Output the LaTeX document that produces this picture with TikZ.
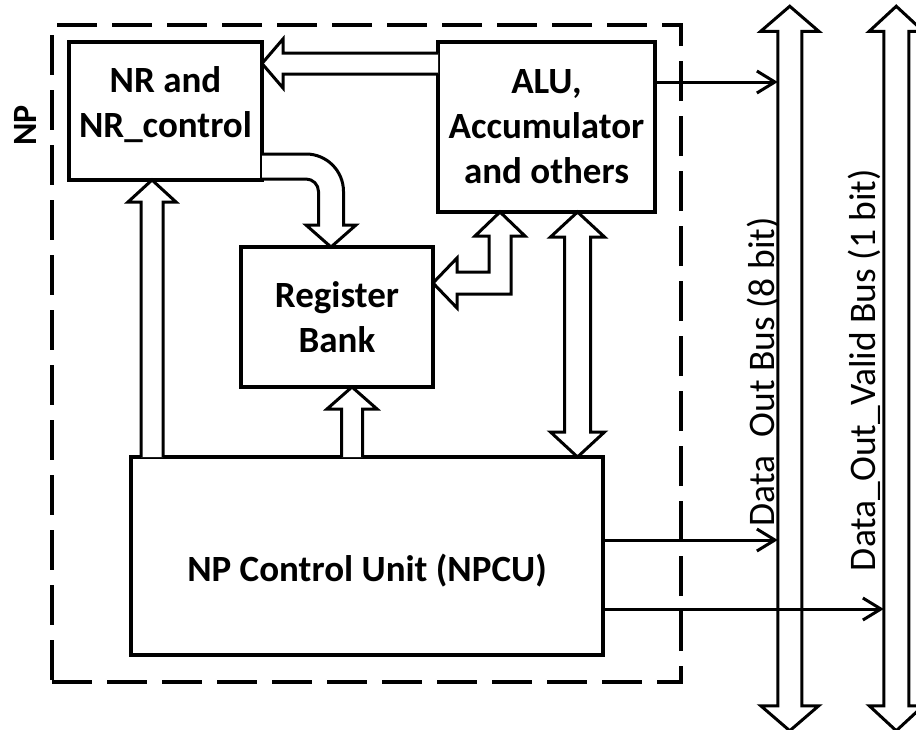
\documentclass[tikz,border=0pt]{standalone}
\usepackage{fontspec}
\setmainfont{Carlito}
\usetikzlibrary{positioning, arrows.meta, fit, calc}

\begin{document}
\begin{tikzpicture}[
    x=1pt, y=1pt,
    block/.style={draw, line width=3.2pt, outer sep=0pt, inner sep=0pt, align=center,
                  font=\bfseries\fontsize{37}{45}\selectfont},
    npframe/.style={draw, dash pattern=on 40pt off 15pt, line width=3.5pt, inner sep=0pt},
    hollow/.style={draw, line width=3pt, fill=white, line join=miter},
    sig/.style={-{Straight Barb[length=18pt, width=22pt]}, line width=3pt},
    buslabel/.style={font=\fontsize{37.5}{44}\selectfont, rotate=90, anchor=south, inner sep=0pt},
    nplabel/.style={font=\bfseries\fontsize{34}{42}\selectfont, rotate=90, anchor=south, inner sep=0pt},
]
\useasboundingbox (0,0) rectangle (916,-729);

% ============================================================
% Blocks inside the NP
% ============================================================
\node[block, minimum width=193pt, minimum height=138pt, anchor=north west] (nr) at (69,-42)
    {\raisebox{6.5pt}[\height][\depth]{NR and}\\\raisebox{6.5pt}[\height][\depth]{NR\_control}};
\node[block, minimum width=217pt, minimum height=170pt, right=176pt of nr.north east, anchor=north west] (alu) {ALU,\\Accumulator\\and others};
\node[block, minimum width=192pt, minimum height=140pt, below=67pt of nr.south west, xshift=172pt, anchor=north west] (reg) {Register\\Bank};
\node[block, minimum width=472pt, minimum height=198pt, below=70pt of reg.south west, xshift=-110pt, anchor=north west,
      text height=50pt, text depth=0pt] (npcu) {NP Control Unit (NPCU)};

% dashed NP frame
\coordinate (np-nw) at ($(nr.north west)+(-17pt,17pt)$);
\coordinate (np-se) at ($(alu.east |- npcu.south)+(26pt,-27pt)$);
\node[npframe, fit=(np-nw)(np-se)] (np) {};
\node[nplabel] (np-text) at ($(np.north west)+(-14pt,-102pt)$) {NP};

% ============================================================
% Hollow arrows between the blocks
% ============================================================
% ALU -> NR
\coordinate (a-tip) at ($(nr.north east)+(0,-21.5pt)$);
\draw[hollow] let \p1=(a-tip), \p2=(alu.west) in
    (\x2,\y1+10.5pt) -- (\x1+21pt,\y1+10.5pt) -- (\x1+21pt,\y1+24.5pt) -- (\p1)
    -- (\x1+21pt,\y1-24.5pt) -- (\x1+21pt,\y1-10.5pt) -- (\x2,\y1-10.5pt);

% NR -> Register (bent)
\coordinate (b-start) at ($(nr.south east)+(0,13.5pt)$);
\coordinate (b-tip) at ($(reg.north)+(-6pt,0)$);
\draw[hollow] let \p1=(b-start), \p2=(b-tip) in
    (\x1,\y1+12.5pt) -- (\x2-25pt,\y1+12.5pt) arc[start angle=90, end angle=0, radius=37.5pt]
    -- (\x2+12.5pt,\y2+22pt) -- (\x2+25pt,\y2+22pt) -- (\p2) -- (\x2-25pt,\y2+22pt) -- (\x2-12.5pt,\y2+22pt)
    -- (\x2-12.5pt,\y1-25pt) arc[start angle=0, end angle=90, radius=12.5pt] -- (\x1,\y1-12.5pt);

% NPCU -> NR
\coordinate (c-tip) at ($(nr.south)+(-13.5pt,0)$);
\draw[hollow] let \p1=(c-tip), \p2=(npcu.north) in
    (\x1-11pt,\y2) -- (\x1-11pt,\y1-22pt) -- (\x1-24pt,\y1-22pt) -- (\p1)
    -- (\x1+24pt,\y1-22pt) -- (\x1+11pt,\y1-22pt) -- (\x1+11pt,\y2);

% NPCU -> Register
\coordinate (d-tip) at ($(reg.south)+(15pt,0)$);
\draw[hollow] let \p1=(d-tip), \p2=(npcu.north) in
    (\x1-10.5pt,\y2) -- (\x1-10.5pt,\y1-22pt) -- (\x1-25pt,\y1-22pt) -- (\p1)
    -- (\x1+25pt,\y1-22pt) -- (\x1+10.5pt,\y1-22pt) -- (\x1+10.5pt,\y2);

% ALU <-> NPCU
\coordinate (e-top) at ($(alu.south)+(31pt,0)$);
\draw[hollow] let \p1=(e-top), \p2=(e-top |- npcu.north) in
    (\p1) -- (\x1+27pt,\y1-25pt) -- (\x1+13pt,\y1-25pt) -- (\x1+13pt,\y2+25pt) -- (\x1+27pt,\y2+25pt) -- (\p2)
    -- (\x1-27pt,\y2+25pt) -- (\x1-13pt,\y2+25pt) -- (\x1-13pt,\y1-25pt) -- (\x1-27pt,\y1-25pt) -- cycle;

% ALU <-> Register (L-shaped)
\coordinate (f-up) at ($(alu.south)+(-46.5pt,0)$);
\coordinate (f-left) at ($(reg.east)+(0,34pt)$);
\draw[hollow] let \p1=(f-up), \p2=(f-left) in
    (\p1) -- (\x1+25pt,\y1-24pt) -- (\x1+11pt,\y1-24pt) -- (\x1+11pt,\y2-11pt) -- (\x2+24pt,\y2-11pt)
    -- (\x2+24pt,\y2-25pt) -- (\p2) -- (\x2+24pt,\y2+25pt) -- (\x2+24pt,\y2+11pt) -- (\x1-11pt,\y2+11pt)
    -- (\x1-11pt,\y1-24pt) -- (\x1-25pt,\y1-24pt) -- cycle;

% ============================================================
% Output buses
% ============================================================
\coordinate (dbus-top) at ($(np.north east)+(107pt,17pt)$);
\coordinate (dbus-bot) at ($(np.south east)+(107pt,-47pt)$);
\coordinate (vbus-top) at ($(np.north east)+(213.5pt,17pt)$);
\coordinate (vbus-bot) at ($(np.south east)+(213.5pt,-47pt)$);

\draw[hollow] let \p1=(dbus-top), \p2=(dbus-bot) in
    (\p1) -- (\x1+29pt,\y1-25pt) -- (\x1+12pt,\y1-25pt) -- (\x1+12pt,\y2+25pt) -- (\x1+29pt,\y2+25pt) -- (\p2)
    -- (\x1-29pt,\y2+25pt) -- (\x1-12pt,\y2+25pt) -- (\x1-12pt,\y1-25pt) -- (\x1-29pt,\y1-25pt) -- cycle;
\draw[hollow] let \p1=(vbus-top), \p2=(vbus-bot) in
    (\p1) -- (\x1+27pt,\y1-25pt) -- (\x1+12.5pt,\y1-25pt) -- (\x1+12.5pt,\y2+25pt) -- (\x1+27pt,\y2+25pt) -- (\p2)
    -- (\x1-27pt,\y2+25pt) -- (\x1-12.5pt,\y2+25pt) -- (\x1-12.5pt,\y1-25pt) -- (\x1-27pt,\y1-25pt) -- cycle;

\coordinate (dbus-left) at ($(dbus-top)+(-12pt,0)$);
\coordinate (vbus-left) at ($(vbus-top)+(-12.5pt,0)$);

\node[buslabel] (dbus-text) at ($(dbus-top)!0.5!(dbus-bot)+(-10pt,-3.5pt)$) {Data\_Out Bus (8 bit)};
\node[buslabel] (vbus-text) at ($(vbus-top)!0.5!(vbus-bot)+(-15.5pt,-1.5pt)$) {Data\_Out\_Valid Bus (1 bit)};

% signals to the buses
\coordinate (g-start) at ($(alu.east)+(0,45pt)$);
\coordinate (h-start) at ($(npcu.east)+(0,16pt)$);
\coordinate (i-start) at ($(npcu.east)+(0,-53pt)$);
\draw[sig] (g-start) -- (g-start -| dbus-left);
\draw[sig] (h-start) -- (h-start -| dbus-left);
\draw[sig] (i-start) -- (i-start -| vbus-left);

\end{tikzpicture}
\end{document}
